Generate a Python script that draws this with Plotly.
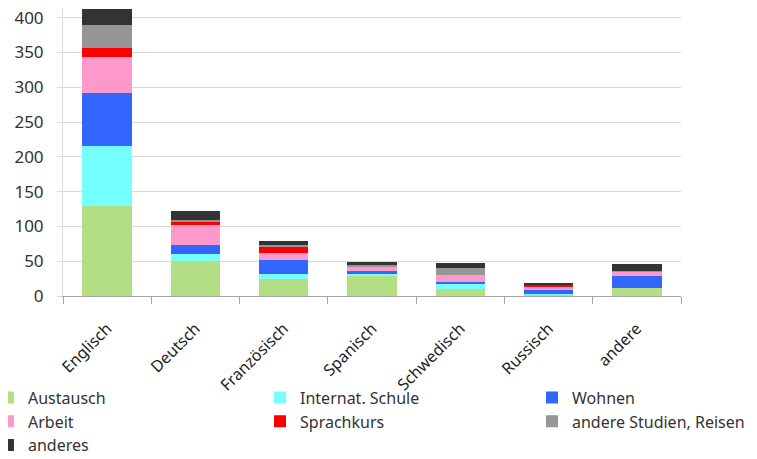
import plotly.graph_objects as go

# Data
languages = ["Englisch", "Deutsch", "Französisch", "Spanisch", "Schwedisch", "Russisch", "andere"]

austausch = [129, 50, 24, 30, 10, 2, 12]
internat_schule = [87, 10, 8, 1, 7, 1, 0]
wohnen = [76, 13, 20, 5, 3, 5, 17]
arbeit = [51, 29, 10, 7, 10, 6, 6]
sprachkurs = [14, 4, 8, 0, 0, 2, 0]
andere_studien = [33, 3, 3, 2, 10, 0, 1]
anderes = [22, 13, 6, 4, 7, 2, 10]

# name, values, colour, legend column (Excel-style 3-column legend)
series = [
    ("Austausch", austausch, "#B3DE84", "legend"),
    ("Internat. Schule", internat_schule, "#75FFFF", "legend2"),
    ("Wohnen", wohnen, "#3366FF", "legend3"),
    ("Arbeit", arbeit, "#FF99CC", "legend"),
    ("Sprachkurs", sprachkurs, "#FF0000", "legend2"),
    ("andere Studien, Reisen", andere_studien, "#969696", "legend3"),
    ("anderes", anderes, "#333333", "legend"),
]

fig = go.Figure()
for name, values, color, leg in series:
    fig.add_trace(go.Bar(x=languages, y=values, name=name, legend=leg,
                         marker=dict(color=color, line=dict(width=0))))

legend_style = dict(orientation="v", y=-0.2938, yanchor="top", xanchor="left",
                    bgcolor="rgba(0,0,0,0)", traceorder="normal",
                    font=dict(family="Noto Sans", size=16, color="#333333"))

fig.update_layout(
    barmode="stack",
    bargap=0.44,
    width=757, height=459,
    # fixed margins: legends sit outside the plot area and must not push it
    margin=dict(l=55, r=84, t=0, b=171, autoexpand=False),
    paper_bgcolor="white",
    plot_bgcolor="white",
    font=dict(family="Noto Sans, sans-serif", size=16, color="#333333"),
    legend=dict(x=-0.1214, **legend_style),
    legend2=dict(x=0.3188, **legend_style),
    legend3=dict(x=0.7589, **legend_style),
)

fig.update_xaxes(showline=True, linecolor="#A6A6A6", linewidth=1, automargin=False,
                 tickson="boundaries", ticks="outside", ticklen=7, tickcolor="#A6A6A6",
                 tickangle=-45, ticklabelstandoff=16,
                 tickfont=dict(size=16, color="#222222"), showgrid=False)
fig.update_yaxes(range=[0, 414], dtick=50, showline=True, linecolor="#D9D9D9", automargin=False,
                 gridcolor="#D9D9D9", ticks="outside", ticklen=5, tickcolor="#D9D9D9",
                 ticklabelstandoff=10, ticklabeloverflow="allow",
                 tickfont=dict(size=17, color="#333333"), zeroline=False)

fig.write_html("out.html")
